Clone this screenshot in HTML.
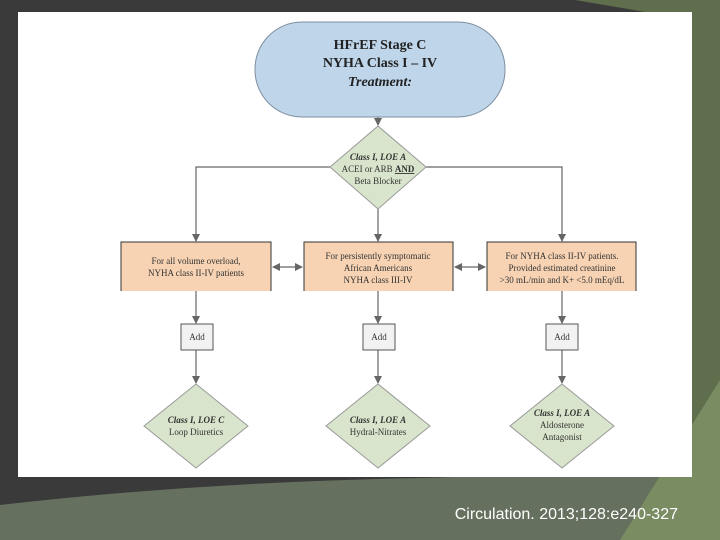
<!DOCTYPE html>
<html><head><meta charset="utf-8"><style>
html,body{margin:0;padding:0;width:720px;height:540px;overflow:hidden;background:#3a3a3a}
svg{display:block}
</style></head><body>
<svg width="720" height="540" viewBox="0 0 720 540" xmlns="http://www.w3.org/2000/svg" font-family="Liberation Serif, serif">
<defs>
<marker id="ah" markerWidth="8" markerHeight="8" refX="7" refY="4" orient="auto" markerUnits="userSpaceOnUse">
<path d="M0,0 L8,4 L0,8 Z" fill="#666"/></marker>
<marker id="as" markerWidth="8" markerHeight="8" refX="1" refY="4" orient="auto" markerUnits="userSpaceOnUse">
<path d="M8,0 L0,4 L8,8 Z" fill="#666"/></marker>
</defs>
<rect width="720" height="540" fill="#3a3a3a"/>
<path d="M575,0 L720,0 L720,540 L690,540 L692,20 Z" fill="#5f6e4d"/>
<path d="M0,540 L0,505 Q200,482 420,478 L700,470 L720,380 L720,540 Z" fill="#66705e"/>
<path d="M620,540 L720,380 L720,540 Z" fill="#7a8c62"/>
<path d="M690,20 L720,0 L720,380 L692,420 Z" fill="#5f6e4d"/>
<rect x="18" y="12" width="674" height="465" fill="#ffffff"/>

<g stroke="#666" stroke-width="1.2" fill="none">
<line x1="378" y1="117" x2="378" y2="125" marker-end="url(#ah)"/>
<polyline points="330,167 196,167 196,241" marker-end="url(#ah)"/>
<polyline points="426,167 562,167 562,241" marker-end="url(#ah)"/>
<line x1="378" y1="209" x2="378" y2="241" marker-end="url(#ah)"/>
<line x1="273" y1="267" x2="302" y2="267" marker-start="url(#as)" marker-end="url(#ah)"/>
<line x1="455" y1="267" x2="485" y2="267" marker-start="url(#as)" marker-end="url(#ah)"/>
<line x1="196" y1="291" x2="196" y2="323" marker-end="url(#ah)"/>
<line x1="378" y1="291" x2="378" y2="323" marker-end="url(#ah)"/>
<line x1="562" y1="291" x2="562" y2="323" marker-end="url(#ah)"/>
<line x1="196" y1="350" x2="196" y2="383" marker-end="url(#ah)"/>
<line x1="378" y1="350" x2="378" y2="383" marker-end="url(#ah)"/>
<line x1="562" y1="350" x2="562" y2="383" marker-end="url(#ah)"/>
</g>

<rect x="255" y="22" width="250" height="95" rx="47" fill="#bed5ea" stroke="#7f8fa0" stroke-width="1"/>
<g font-size="14" fill="#222" text-anchor="middle" font-weight="bold">
<text x="380" y="49">HFrEF Stage C</text>
<text x="380" y="67">NYHA Class I – IV</text>
<text x="380" y="86" font-style="italic">Treatment:</text>
</g>

<path d="M378,126 L426,167 L378,209 L330,167 Z" fill="#d8e4cb" stroke="#999" stroke-width="1"/>
<g font-size="9" fill="#333" text-anchor="middle">
<text x="378" y="160" font-style="italic" font-weight="bold">Class I, LOE A</text>
<text x="378" y="172">ACEI or ARB <tspan font-weight="bold" text-decoration="underline">AND</tspan></text>
<text x="378" y="184">Beta Blocker</text>
</g>

<g fill="#f7d3b3" stroke="#333" stroke-width="1">
<path d="M121,291 L121,242 L271,242 L271,291"/>
<path d="M304,291 L304,242 L453,242 L453,291"/>
<path d="M487,291 L487,242 L636,242 L636,291"/>
</g>
<g font-size="9" fill="#333" text-anchor="middle">
<text x="196" y="264">For all volume overload,</text>
<text x="196" y="276">NYHA class II-IV patients</text>
<text x="378" y="259">For persistently symptomatic</text>
<text x="378" y="271">African Americans</text>
<text x="378" y="283">NYHA class III-IV</text>
<text x="562" y="259">For NYHA class II-IV patients.</text>
<text x="562" y="271">Provided estimated creatinine</text>
<text x="562" y="283">&gt;30 mL/min and K+ &lt;5.0 mEq/dL</text>
</g>

<g fill="#f2f2f2" stroke="#555" stroke-width="1">
<rect x="181" y="324" width="32" height="26"/>
<rect x="363" y="324" width="32" height="26"/>
<rect x="546" y="324" width="32" height="26"/>
</g>
<g font-size="9" fill="#333" text-anchor="middle">
<text x="197" y="340">Add</text><text x="379" y="340">Add</text><text x="562" y="340">Add</text>
</g>

<g fill="#d8e4cb" stroke="#999" stroke-width="1">
<path d="M196,384 L248,426 L196,468 L144,426 Z"/>
<path d="M378,384 L430,426 L378,468 L326,426 Z"/>
<path d="M562,384 L614,426 L562,468 L510,426 Z"/>
</g>
<g font-size="9" fill="#333" text-anchor="middle">
<text x="196" y="423" font-style="italic" font-weight="bold">Class I, LOE C</text>
<text x="196" y="435">Loop Diuretics</text>
<text x="378" y="423" font-style="italic" font-weight="bold">Class I, LOE A</text>
<text x="378" y="435">Hydral-Nitrates</text>
<text x="562" y="416" font-style="italic" font-weight="bold">Class I, LOE A</text>
<text x="562" y="428">Aldosterone</text>
<text x="562" y="440">Antagonist</text>
</g>

<text x="678" y="519" font-family="Liberation Sans, sans-serif" font-size="16" fill="#ffffff" text-anchor="end">Circulation. 2013;128:e240-327</text>
</svg>
</body></html>
